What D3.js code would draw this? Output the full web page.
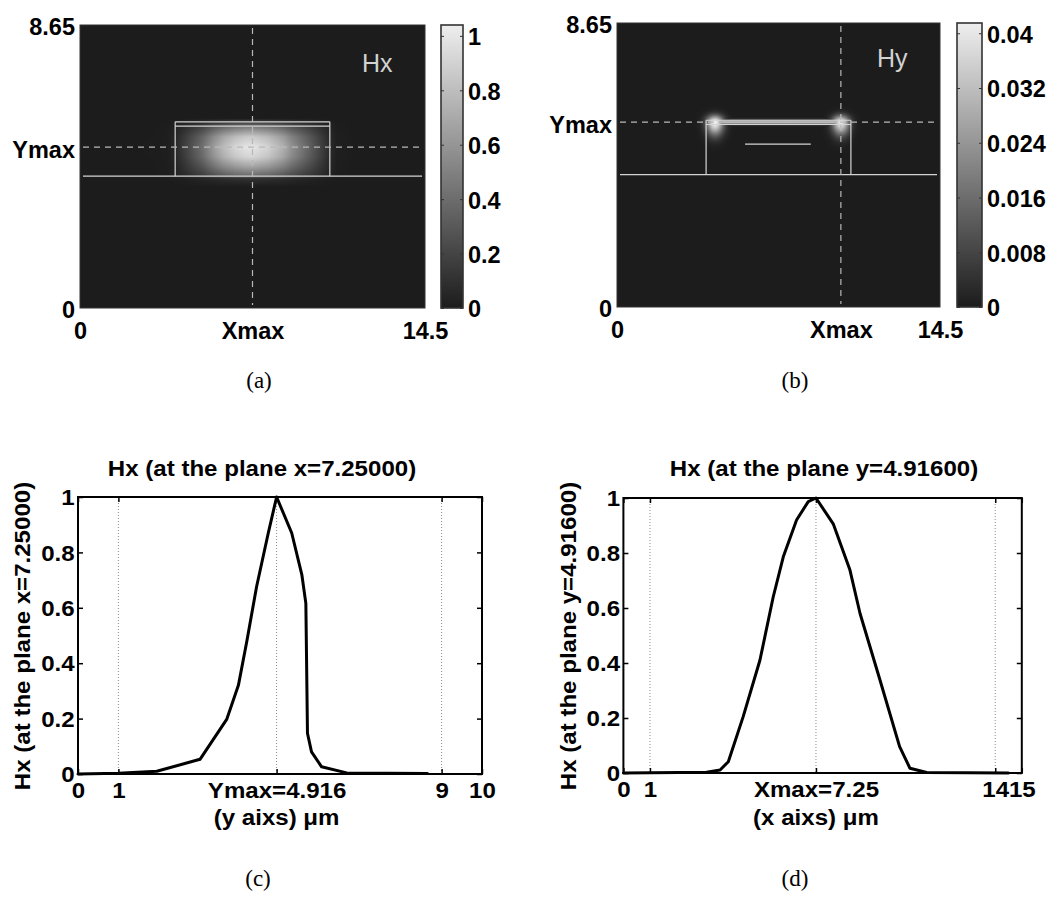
<!DOCTYPE html>
<html>
<head>
<meta charset="utf-8">
<script src="https://cdn.jsdelivr.net/npm/d3@7"></script>
<style>
  body { margin: 0; background: #fff; }
  svg { display: block; font-family: "Liberation Sans", Arial, Helvetica, sans-serif; }
</style>
</head>
<body>
<svg id="fig" width="1048" height="902"></svg>
<script>
// ---------------- data ----------------
// computational window (µm)
const domainX = [0, 14.5];
const domainY = [0, 8.65];

// waveguide outline (µm)
const substrateTop = 4.03;
const ridgeX = [4.0, 10.5];
const ridgeTopLines = [5.56, 5.69];
const hyInnerLineX = [5.75, 8.7];
const hyInnerLineY = 4.96;

// Hx map: location of the maximum
const hxXmax = 7.25;
const hxYmax = 4.916;
// Hx map: vertical intensity through the core centre
const mapYPos = [3.7, 3.95, 4.07, 4.31, 4.62, 4.916, 5.23, 5.53, 5.65, 5.8];
const mapYVal = [0, 0.1, 0.42, 0.66, 0.92, 1, 0.86, 0.48, 0.22, 0];

// Hy map: location of the maximum and the corner hot spots
const hyXmax = 10.05;
const hyYmax = 5.63;
const hySpotX = [4.4, 10.05];
const hySpotY = [5.63, 5.63];
const hySpotPeak = [0.042, 0.04];
const hyEdgePeak = 0.032;

// colour bars
const hxBarTicks = [0, 0.2, 0.4, 0.6, 0.8, 1];
const hxBarLabels = ["0", "0.2", "0.4", "0.6", "0.8", "1"];
const hxBarTop = 1.04;
const hyBarTicks = [0, 0.008, 0.016, 0.024, 0.032, 0.04];
const hyBarLabels = ["0", "0.008", "0.016", "0.024", "0.032", "0.04"];
const hyBarTop = 0.0415;

// map tick labels
const hxMapXTicks = [0, hxXmax, 14.5];
const hxMapYTicks = [0, hxYmax, 8.65];
const hyMapXTicks = [0, hyXmax, 14.5];
const hyMapYTicks = [0, hyYmax, 8.65];
const mapXLabels = ["0", "Xmax", "14.5"];
const mapYLabels = ["0", "Ymax", "8.65"];

// profile along y at the plane x = 7.25
const profYPos = [0, 1, 1.95, 3.02, 3.68, 3.97, 4.18, 4.42, 4.71, 4.916, 5.29, 5.54, 5.64, 5.68, 5.78, 6.03, 6.65, 8.65];
const profYVal = [0, 0.003, 0.01, 0.053, 0.197, 0.32, 0.48, 0.676, 0.87, 1, 0.87, 0.72, 0.616, 0.147, 0.08, 0.026, 0.004, 0.002];
const cXTicks = [0, 1, 4.916, 9, 10];
const cXLabels = ["0", "1", "Ymax=4.916", "9", "10"];
const cGrid = [1, 4.916, 9];

// profile along x at the plane y = 4.916
const profXPos = [0, 3.13, 3.64, 3.95, 4.51, 5.14, 5.64, 6.02, 6.52, 6.96, 7.25, 7.9, 8.53, 8.91, 9.66, 10.4, 10.79, 11.42, 14.5];
const profXVal = [0, 0.003, 0.011, 0.041, 0.205, 0.41, 0.64, 0.786, 0.92, 0.987, 1, 0.906, 0.738, 0.58, 0.338, 0.096, 0.017, 0.002, 0];
const dXTicks = [0, 1, 7.25, 14, 15];
const dXLabels = ["0", "1", "Xmax=7.25", "14", "15"];
const dGrid = [1, 7.25, 14];

const profYTicks = [0, 0.2, 0.4, 0.6, 0.8, 1];
const profYLabels = ["0", "0.2", "0.4", "0.6", "0.8", "1"];

// ---------------- drawing ----------------
const svg = d3.select("#fig");
const defs = svg.append("defs");
const DARK = "#1c1c1c", LIGHT = "#eeeeee";
const SANS = '"Liberation Sans", Arial, Helvetica, sans-serif';

function heatPanel(p) {
  const g = svg.append("g");
  const x = d3.scaleLinear().domain(domainX).range([p.x0, p.x1]);
  const y = d3.scaleLinear().domain(domainY).range([p.y1, p.y0]);
  const col = d3.scaleLinear().domain([0, p.barTop]).range([DARK, LIGHT]).clamp(true);
  const field = p.field(x, y);

  // raster of the field
  const w = Math.round(p.x1 - p.x0), h = Math.round(p.y1 - p.y0);
  const cv = document.createElement("canvas");
  cv.width = w; cv.height = h;
  const ctx = cv.getContext("2d");
  const img = ctx.createImageData(w, h);
  for (let j = 0; j < h; j++) {
    const yv = y.invert(p.y0 + j + 0.5);
    for (let i = 0; i < w; i++) {
      const xv = x.invert(p.x0 + i + 0.5);
      const c = d3.rgb(col(field(xv, yv)));
      const k = (j * w + i) * 4;
      img.data[k] = c.r; img.data[k + 1] = c.g; img.data[k + 2] = c.b; img.data[k + 3] = 255;
    }
  }
  ctx.putImageData(img, 0, 0);
  g.append("image").attr("x", p.x0).attr("y", p.y0).attr("width", w).attr("height", h)
    .attr("preserveAspectRatio", "none").attr("href", cv.toDataURL());

  // waveguide outline
  const ln = "#d4d4d4";
  g.append("line").attr("x1", p.x0 + 3).attr("x2", p.x1 - 3)
    .attr("y1", y(substrateTop)).attr("y2", y(substrateTop)).attr("stroke", ln).attr("stroke-width", 1.3);
  ridgeX.forEach(v => g.append("line").attr("x1", x(v)).attr("x2", x(v))
    .attr("y1", y(substrateTop)).attr("y2", y(d3.max(ridgeTopLines))).attr("stroke", ln).attr("stroke-width", 1.2));
  ridgeTopLines.forEach(v => g.append("line").attr("x1", x(ridgeX[0])).attr("x2", x(ridgeX[1]))
    .attr("y1", y(v)).attr("y2", y(v)).attr("stroke", ln).attr("stroke-width", 1.1));
  if (p.inner) {
    g.append("line").attr("x1", x(hyInnerLineX[0])).attr("x2", x(hyInnerLineX[1]))
      .attr("y1", y(hyInnerLineY)).attr("y2", y(hyInnerLineY)).attr("stroke", ln).attr("stroke-width", 1.2);
  }

  // cross-hair through the maximum
  const dash = "#b8b8b8";
  g.append("line").attr("x1", x(p.xmax)).attr("x2", x(p.xmax)).attr("y1", p.y0 + 3).attr("y2", p.y1 - 3)
    .attr("stroke", dash).attr("stroke-width", 1.2).attr("stroke-dasharray", "6,5");
  g.append("line").attr("x1", p.x0 + 3).attr("x2", p.x1 - 3).attr("y1", y(p.ymax)).attr("y2", y(p.ymax))
    .attr("stroke", dash).attr("stroke-width", 1.2).attr("stroke-dasharray", "6,5");

  g.append("rect").attr("x", p.x0).attr("y", p.y0).attr("width", w).attr("height", h)
    .attr("fill", "none").attr("stroke", "#333").attr("stroke-width", 1);

  g.append("text").attr("x", p.x0 + p.nameDx).attr("y", p.y0 + p.nameDy).attr("dy", "0.35em")
    .attr("font-size", 25).attr("fill", "#d2d2d2").text(p.name);

  // axis labels
  const xa = g.append("g").attr("transform", `translate(0,${p.y1})`)
    .call(d3.axisBottom(x).tickValues(p.xTicks).tickFormat((d, i) => mapXLabels[i]).tickSize(0).tickPadding(14));
  const ya = g.append("g").attr("transform", `translate(${p.x0},0)`)
    .call(d3.axisLeft(y).tickValues(p.yTicks).tickFormat((d, i) => mapYLabels[i]).tickSize(0).tickPadding(5));
  [xa, ya].forEach(a => {
    a.select(".domain").remove();
    a.selectAll("text").attr("font-size", 23.5).attr("font-weight", "bold").attr("fill", "#000")
      .attr("font-family", SANS);
  });
  xa.selectAll("text").attr("dy", "0.71em");
  ya.selectAll("text").attr("dy", "0.42em");

  // colour bar
  const gid = "grad" + p.name;
  const gr = defs.append("linearGradient").attr("id", gid).attr("x1", 0).attr("y1", 1).attr("x2", 0).attr("y2", 0);
  gr.append("stop").attr("offset", 0).attr("stop-color", DARK);
  gr.append("stop").attr("offset", 1).attr("stop-color", LIGHT);
  const cb = p.bar;
  g.append("rect").attr("x", cb.x0).attr("y", p.y0).attr("width", cb.x1 - cb.x0).attr("height", h)
    .attr("fill", `url(#${gid})`).attr("stroke", "#333").attr("stroke-width", 1.6);
  const by = d3.scaleLinear().domain([0, p.barTop]).range([p.y1, p.y0]);
  const ba = g.append("g").attr("transform", `translate(${cb.x1},0)`)
    .call(d3.axisRight(by).tickValues(p.barTicks).tickFormat((d, i) => p.barLabels[i]).tickSizeInner(-3).tickSizeOuter(0).tickPadding(5));
  ba.select(".domain").remove();
  ba.selectAll("line").attr("stroke", "#333");
  ba.selectAll("text").attr("font-size", 23.5).attr("font-weight", "bold").attr("fill", "#000")
    .attr("font-family", SANS).attr("dy", "0.38em");
  const bl = g.append("g").attr("transform", `translate(${cb.x0},0)`)
    .call(d3.axisLeft(by).tickValues(p.barTicks).tickFormat("").tickSizeInner(-3).tickSizeOuter(0));
  bl.select(".domain").remove();
  bl.selectAll("line").attr("stroke", "#333");
}

// Hx: separable mode shape
heatPanel({
  name: "Hx", x0: 80, x1: 425, y0: 25, y1: 308,
  xmax: hxXmax, ymax: hxYmax, xTicks: hxMapXTicks, yTicks: hxMapYTicks,
  nameDx: 282, nameDy: 38,
  barTop: hxBarTop, barTicks: hxBarTicks, barLabels: hxBarLabels,
  bar: { x0: 441, x1: 463 },
  field: () => {
    const fx = d3.scaleLinear().domain(profXPos).range(profXVal).clamp(true);
    const fy = d3.scaleLinear().domain(mapYPos).range(mapYVal).clamp(true);
    return (xv, yv) => fx(xv) * fy(yv);
  }
});

// Hy: hot spots at the ridge corners and along its top face
heatPanel({
  name: "Hy", x0: 617, x1: 940, y0: 23, y1: 307,
  xmax: hyXmax, ymax: hyYmax, xTicks: hyMapXTicks, yTicks: hyMapYTicks,
  nameDx: 260, nameDy: 35, inner: true,
  barTop: hyBarTop, barTicks: hyBarTicks, barLabels: hyBarLabels,
  bar: { x0: 957, x1: 982 },
  field: (x, y) => {
    const sig = 6, sigEdge = 1.6;
    const ex0 = x(hySpotX[0]), ex1 = x(hySpotX[1]), ey = y(hyYmax);
    return (xv, yv) => {
      const px = x(xv), py = y(yv);
      let v = 0;
      hySpotX.forEach((sx, k) => {
        const dx = px - x(sx), dy = py - y(hySpotY[k]);
        const sy = dy > 0 ? sig * 1.5 : sig * 0.8;
        v = Math.max(v, hySpotPeak[k] * Math.exp(-(dx * dx) / (2 * sig * sig) - (dy * dy) / (2 * sy * sy)));
      });
      if (px >= ex0 && px <= ex1) {
        const dy = py - ey;
        v = Math.max(v, hyEdgePeak * Math.exp(-(dy * dy) / (2 * sigEdge * sigEdge)));
      }
      return v;
    };
  }
});

// ---- line profiles ----
const SX = 1.12;   // horizontal stretch of the profile-plot lettering
function stretched(sel) {
  sel.each(function () {
    const t = d3.select(this);
    const prev = t.attr("transform") || "";
    t.attr("transform", prev + ` scale(${SX},1)`);
  });
}

function profilePanel(p) {
  const g = svg.append("g");
  const x = d3.scaleLinear().domain(p.xdomain).range([p.x0, p.x1]);
  const y = d3.scaleLinear().domain([0, 1]).range([p.y1, p.y0]);

  g.selectAll("line.grid").data(p.grid).join("line").attr("class", "grid")
    .attr("x1", d => x(d)).attr("x2", d => x(d)).attr("y1", p.y0).attr("y2", p.y1)
    .attr("stroke", "#8a8a8a").attr("stroke-width", 1).attr("stroke-dasharray", "1,2");

  g.append("path").datum(d3.zip(p.xs, p.vs))
    .attr("d", d3.line().x(d => x(d[0])).y(d => y(d[1])))
    .attr("fill", "none").attr("stroke", "#000").attr("stroke-width", 3)
    .attr("stroke-linejoin", "round").attr("stroke-linecap", "round");

  g.append("rect").attr("x", p.x0).attr("y", p.y0).attr("width", p.x1 - p.x0).attr("height", p.y1 - p.y0)
    .attr("fill", "none").attr("stroke", "#000").attr("stroke-width", 2);

  const font = a => {
    a.select(".domain").remove();
    a.selectAll("line").attr("stroke", "#000").attr("stroke-width", 1.5);
    a.selectAll("text").attr("font-size", 21.5).attr("font-weight", "bold").attr("fill", "#000")
      .attr("font-family", SANS);
  };
  const xb = g.append("g").attr("transform", `translate(0,${p.y1})`)
    .call(d3.axisBottom(x).tickValues(p.xTicks).tickFormat((d, i) => p.xLabels[i]).tickSizeInner(-5).tickSizeOuter(0).tickPadding(9));
  font(xb); xb.selectAll("text").attr("dy", "0.71em"); stretched(xb.selectAll("text"));
  const xt = g.append("g").attr("transform", `translate(0,${p.y0})`)
    .call(d3.axisTop(x).tickValues(p.xTicks).tickFormat("").tickSizeInner(-5).tickSizeOuter(0));
  font(xt);
  const yl = g.append("g").attr("transform", `translate(${p.x0},0)`)
    .call(d3.axisLeft(y).tickValues(profYTicks).tickFormat((d, i) => profYLabels[i]).tickSizeInner(-5).tickSizeOuter(0).tickPadding(3));
  font(yl); yl.selectAll("text").attr("dy", "0.36em"); stretched(yl.selectAll("text"));
  const yr = g.append("g").attr("transform", `translate(${p.x1},0)`)
    .call(d3.axisRight(y).tickValues(profYTicks).tickFormat("").tickSizeInner(-5).tickSizeOuter(0));
  font(yr);

  const txt = (tx, ty, s, rot) => g.append("text")
    .attr("transform", `translate(${tx},${ty})` + (rot ? ` rotate(${rot})` : "") + ` scale(${SX},1)`)
    .attr("text-anchor", "middle").attr("dy", "0.35em")
    .attr("font-size", 21.5).attr("font-weight", "bold").text(s);
  txt(p.titleX, 468, p.title);
  txt(p.ylabX, 636, p.title, -90);
  txt(x(p.xLabelAt), 817, p.xUnit);
}

profilePanel({
  x0: 78, x1: 482, y0: 497, y1: 774, xdomain: [0, 10],
  xs: profYPos, vs: profYVal, xTicks: cXTicks, xLabels: cXLabels, grid: cGrid,
  title: "Hx (at the plane x=7.25000)", titleX: 262, ylabX: 22,
  xLabelAt: 4.916, xUnit: "(y aixs) μm"
});
profilePanel({
  x0: 623.4, x1: 1021.8, y0: 498, y1: 773, xdomain: [0, 15],
  xs: profXPos, vs: profXVal, xTicks: dXTicks, xLabels: dXLabels, grid: dGrid,
  title: "Hx (at the plane y=4.91600)", titleX: 824, ylabX: 568,
  xLabelAt: 7.25, xUnit: "(x aixs) μm"
});

// sub-figure letters
const letters = [["(a)", 259, 380], ["(b)", 795, 380], ["(c)", 258, 878], ["(d)", 795, 878]];
svg.selectAll("text.letter").data(letters).join("text").attr("class", "letter")
  .attr("x", d => d[1]).attr("y", d => d[2]).attr("dy", "0.35em").attr("text-anchor", "middle")
  .attr("font-family", '"Liberation Serif", "Times New Roman", serif').attr("font-size", 23)
  .text(d => d[0]);
</script>
</body>
</html>
